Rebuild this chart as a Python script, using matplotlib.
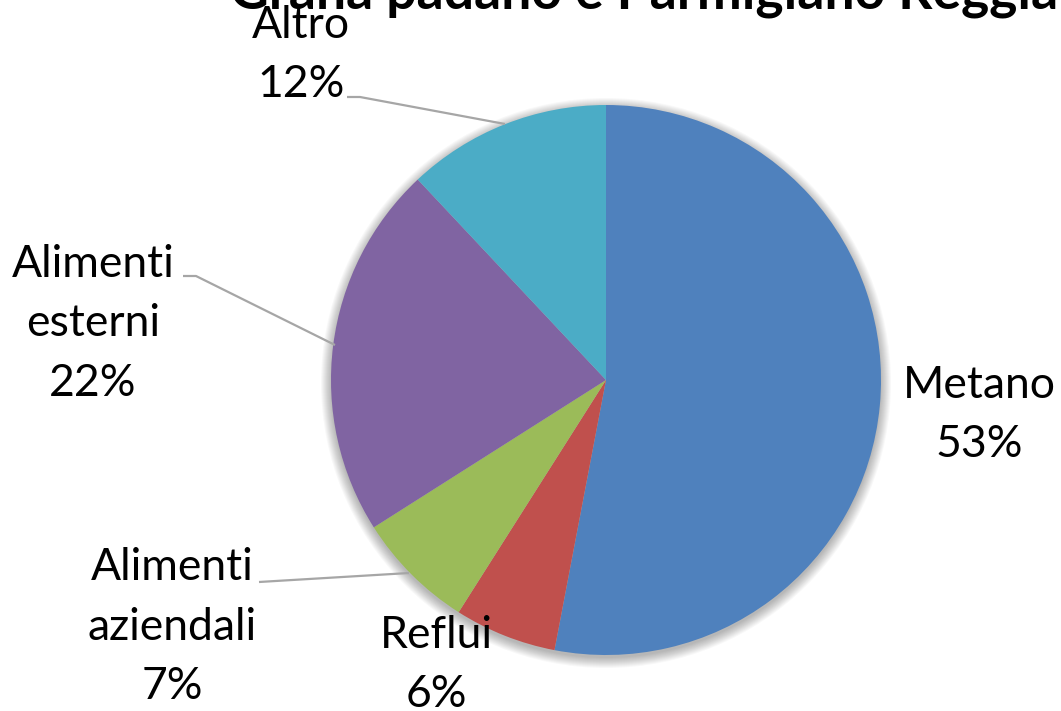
import matplotlib
matplotlib.use("Agg")
import matplotlib.pyplot as plt
from matplotlib.patches import Circle

# Emission shares by source
categories = ["Metano", "Reflui", "Alimenti\naziendali", "Alimenti\nesterni", "Altro"]
shares = [53, 6, 7, 22, 12]
colors = ["#4F81BD", "#C0504D", "#9BBB59", "#8064A2", "#4BACC6"]
title = "Grana padano e Parmigiano Reggiano"

W, H = 1061, 711
fig = plt.figure(figsize=(W / 100, H / 100), dpi=100)
ax = fig.add_axes([0, 0, 1, 1])

FONT = ["Lato", "DejaVu Sans"]
cx, cy, R = 606, 380, 275

# soft shadow under the pie
for d in range(10, -1, -1):
    ax.add_patch(Circle((cx, cy + 3), R + d, color="black", alpha=0.028,
                        lw=0, zorder=0))

wedges, _ = ax.pie(shares, colors=colors, startangle=-90, counterclock=True,
                   center=(cx, cy), radius=R, frame=False,
                   wedgeprops=dict(linewidth=0, zorder=1))

ax.set_xlim(0, W)
ax.set_ylim(H, 0)
ax.set_aspect("equal")
ax.axis("off")

# label anchor (centre of text block) and leader line points
label_pos = [(979, 415), (436, 665), (172, 627), (93, 324), (301, 55)]
leaders = [None, None,
           [(259, 582), (409, 573)],
           [(183, 276), (196, 276), (335, 345)],
           [(347, 97), (360, 97), (505, 124)]]

for name, val, (lx, ly), lead in zip(categories, shares, label_pos, leaders):
    ax.text(lx, ly, f"{name}\n{val}%", ha="center", va="center",
            fontsize=32, family=FONT, color="black", linespacing=1.55,
            zorder=3)
    if lead:
        xs, ys = zip(*lead)
        ax.plot(xs, ys, color="#A6A6A6", lw=1.6, zorder=2,
                solid_capstyle="butt")

ax.text(230, 9, title, ha="left", va="baseline", fontsize=38.5,
        fontweight="bold", family=FONT, color="black", zorder=4)

fig.savefig("out.png", dpi=100)
